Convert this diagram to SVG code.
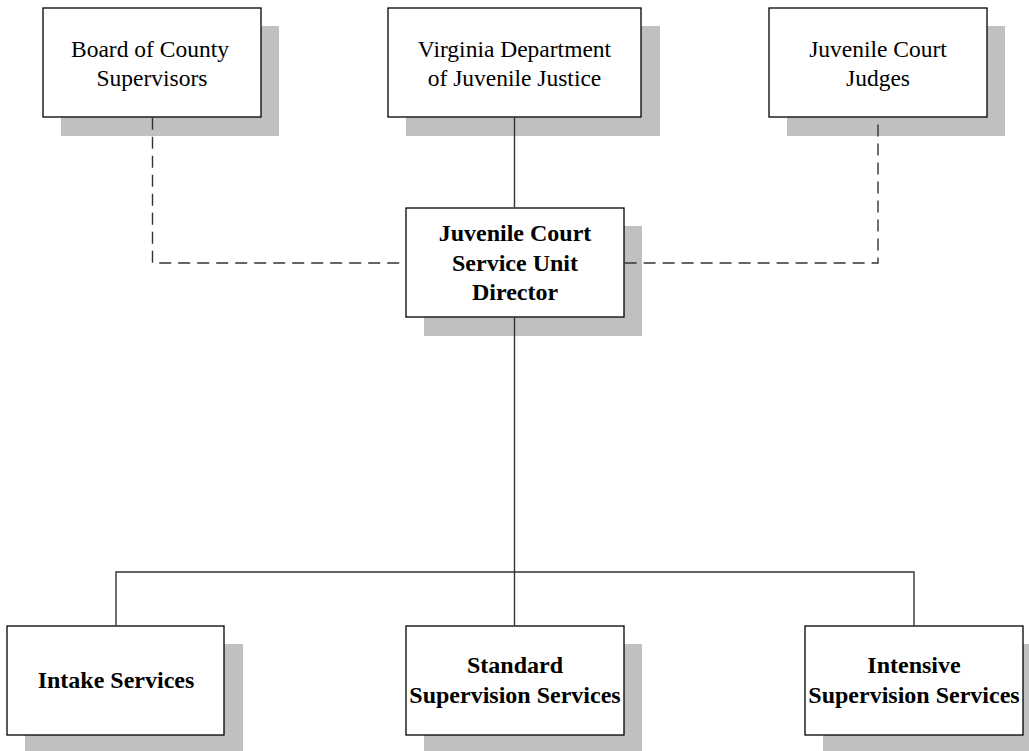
<svg xmlns="http://www.w3.org/2000/svg" width="1029" height="751" viewBox="0 0 1029 751">
<style>
.sh{fill:#c0c0c0}
.bx{fill:#fff;stroke:#000;stroke-width:1.3}
.t{font-family:"Liberation Serif","Times New Roman",serif;font-size:23.5px;text-anchor:middle;fill:#000}
.b{font-weight:bold;font-size:24px}
.ln{fill:none;stroke:#333;stroke-width:1.4}
.dash{stroke-dasharray:12,7}
</style>
<rect width="1029" height="751" fill="#fff"/>
<g id="board">
<rect class="sh" x="61" y="26" width="218" height="110"/>
<rect class="bx" x="43" y="8" width="218" height="109"/>
<text class="t" x="150" y="57">Board of County</text>
<text class="t" x="152" y="86">Supervisors</text>
</g>
<g id="vdjj">
<rect class="sh" x="406" y="26" width="254" height="110"/>
<rect class="bx" x="388" y="8" width="253" height="109"/>
<text class="t" x="514.5" y="57">Virginia Department</text>
<text class="t" x="514.5" y="86">of Juvenile Justice</text>
</g>
<g id="judges">
<rect class="sh" x="787" y="26" width="218" height="110"/>
<rect class="bx" x="769" y="8" width="218" height="109"/>
<text class="t" x="878" y="57">Juvenile Court</text>
<text class="t" x="878" y="86">Judges</text>
</g>
<g id="director">
<rect class="sh" x="424" y="226" width="218" height="110"/>
<rect class="bx" x="406" y="208" width="218" height="109"/>
<text class="t b" x="515" y="241">Juvenile Court</text>
<text class="t b" x="515" y="271">Service Unit</text>
<text class="t b" x="515" y="300">Director</text>
</g>
<g id="intake">
<rect class="sh" x="25" y="644" width="218" height="110"/>
<rect class="bx" x="7" y="626" width="217" height="109"/>
<text class="t b" x="116" y="688">Intake Services</text>
</g>
<g id="standard">
<rect class="sh" x="424" y="644" width="218" height="110"/>
<rect class="bx" x="406" y="626" width="218" height="109"/>
<text class="t b" x="515" y="673">Standard</text>
<text class="t b" x="515" y="703">Supervision Services</text>
</g>
<g id="intensive">
<rect class="sh" x="823" y="644" width="218" height="110"/>
<rect class="bx" x="805" y="626" width="218" height="109"/>
<text class="t b" x="914" y="673">Intensive</text>
<text class="t b" x="914" y="703">Supervision Services</text>
</g>
<g id="connectors">
<path class="ln dash" d="M152.5,117.7 V263 H405.4"/>
<path class="ln dash" d="M624.6,263 H878 V117.7"/>
<path class="ln" d="M514.5,117.7 V207.4"/>
<path class="ln" d="M514.5,317.7 V625.4"/>
<path class="ln" d="M116,625.4 V572 H914 V625.4"/>
</g>
</svg>
